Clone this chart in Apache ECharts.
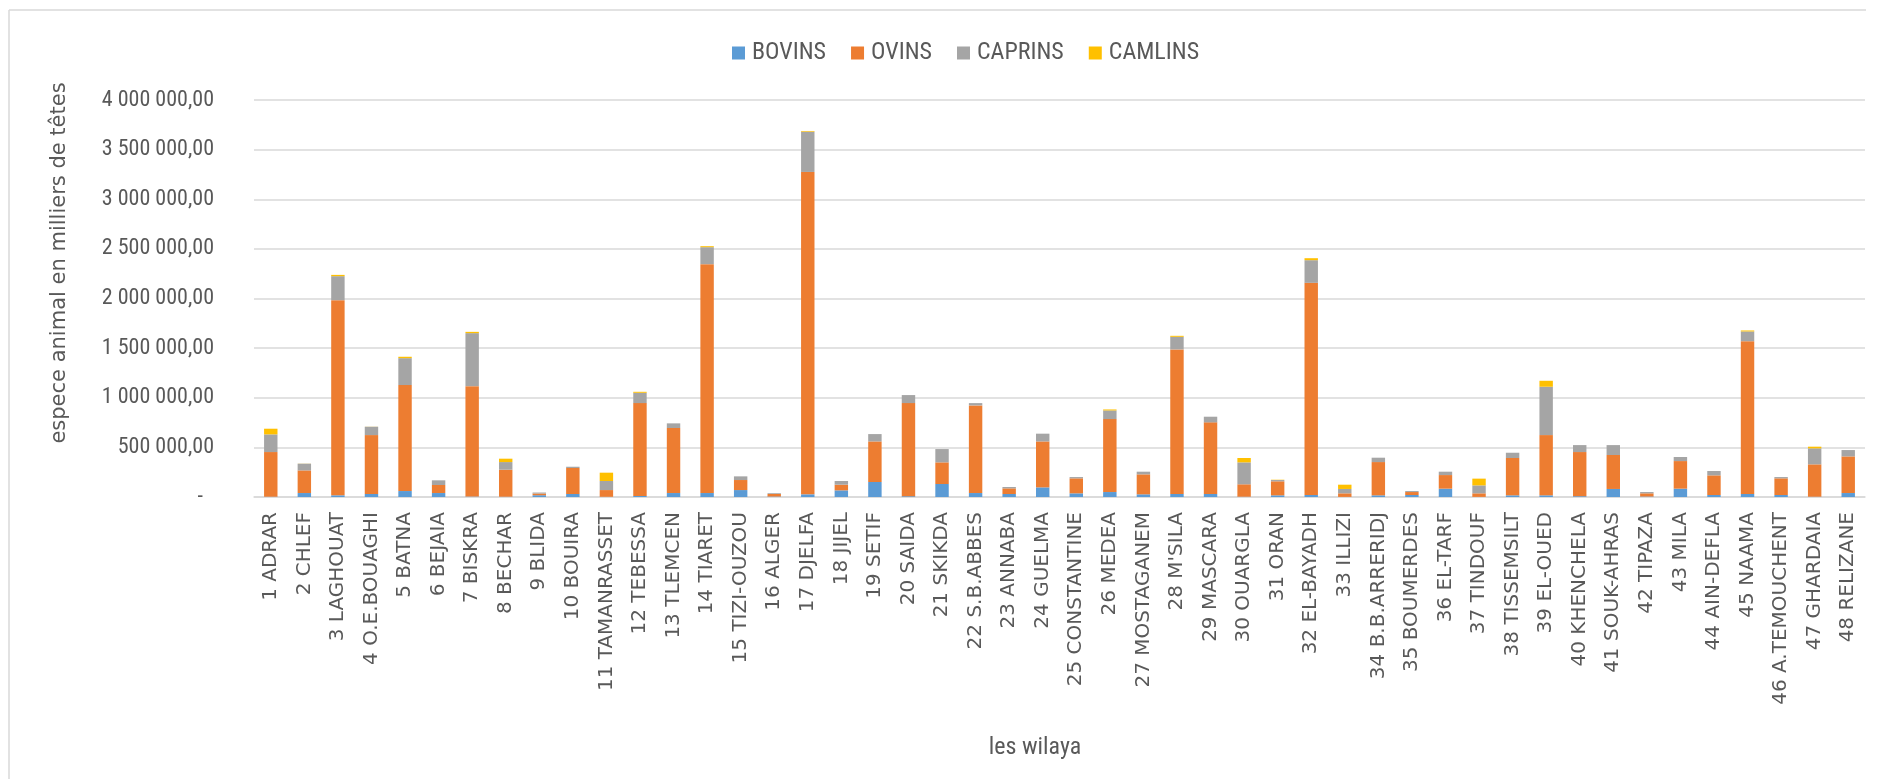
<!DOCTYPE html>
<html>
<head>
<meta charset="utf-8">
<script src="https://cdn.jsdelivr.net/npm/echarts@6/dist/echarts.min.js"></script>
<style>
html,body{margin:0;padding:0;background:#fff;}
#chart{width:1877px;height:779px;}
</style>
</head>
<body>
<div id="chart"></div>
<script>
const categories = ["1 ADRAR","2 CHLEF","3 LAGHOUAT","4 O.E.BOUAGHI","5 BATNA","6 BEJAIA","7 BISKRA","8 BECHAR","9 BLIDA","10 BOUIRA","11 TAMANRASSET","12 TEBESSA","13 TLEMCEN","14 TIARET","15 TIZI-OUZOU","16 ALGER","17 DJELFA","18 JIJEL","19 SETIF","20 SAIDA","21 SKIKDA","22 S.B.ABBES","23 ANNABA","24 GUELMA","25 CONSTANTINE","26 MEDEA","27 MOSTAGANEM","28 M'SILA","29 MASCARA","30 OUARGLA","31 ORAN","32 EL-BAYADH","33 ILLIZI","34 B.B.ARRERIDJ","35 BOUMERDES","36 EL-TARF","37 TINDOUF","38 TISSEMSILT","39 EL-OUED","40 KHENCHELA","41 SOUK-AHRAS","42 TIPAZA","43 MILA","44 AIN-DEFLA","45 NAAMA","46 A.TEMOUCHENT","47 GHARDAIA","48 RELIZANE"];
const seriesNames = ["BOVINS","OVINS","CAPRINS","CAMLINS"];
const bovins  = [3000,40000,17000,30000,60000,40000,4000,3000,18000,30000,2000,10000,40000,40000,70000,5000,27000,67000,151000,8000,131000,40000,30000,97000,37000,50000,27000,30000,30000,3000,17000,20000,1000,17000,20000,84000,1000,17000,17000,8000,81000,5000,84000,20000,30000,20000,3000,40000];
const ovins   = [450000,228000,1966000,594000,1068000,81000,1113000,272000,17000,262000,68000,936000,655000,2306000,101000,25000,3248000,57000,409000,938000,218000,883000,57000,463000,151000,735000,201000,1457000,722000,125000,141000,2138000,36000,335000,30000,137000,36000,376000,607000,445000,342000,32000,278000,198000,1540000,168000,326000,369000];
const caprins = [178000,68000,242000,84000,271000,47000,534000,77000,10000,13000,91000,104000,47000,171000,37000,8000,406000,37000,74000,81000,134000,23000,14000,78000,13000,87000,27000,127000,57000,221000,13000,228000,44000,44000,10000,34000,80000,53000,487000,70000,100000,13000,41000,44000,98000,13000,161000,64000];
const camlins = [57000,1000,13000,1000,14000,0,13000,34000,0,0,84000,10000,0,10000,0,0,7000,0,0,0,0,0,0,0,0,10000,0,10000,0,44000,3000,20000,43000,0,0,0,68000,0,60000,0,0,0,0,0,10000,0,17000,0];
const yTicks = {min:0, max:4000000, interval:500000};

const colors = ["#5B9BD5","#ED7D31","#A5A5A5","#FFC000"];
const narrow = "'Liberation Sans Narrow','Arial Narrow','Roboto Condensed','Liberation Sans',sans-serif";

function fmt(v){
  if (v === 0) return '{d|-}';
  const s = Math.round(v).toString().replace(/\B(?=(\d{3})+(?!\d))/g,' ');
  return s + ',00';
}

const chart = echarts.init(document.getElementById('chart'));
const dataArr = [bovins, ovins, caprins, camlins];
chart.setOption({
  animation:false,
  color: colors,
  graphic:[
    {type:'line', shape:{x1:9,y1:10,x2:1866,y2:10}, style:{stroke:'#d9d9d9',lineWidth:1.5}},
    {type:'line', shape:{x1:9,y1:10,x2:9,y2:779}, style:{stroke:'#d9d9d9',lineWidth:1.5}},
    {type:'text', x:60, y:263, rotation:Math.PI/2,
     style:{text:'espece animal en milliers de têtes', font:"21px 'DejaVu Sans'", fill:'#595959', textAlign:'center', textVerticalAlign:'middle'}},
    {type:'text', x:1035, y:748,
     style:{text:'les wilaya', font:"24px "+narrow, fill:'#595959', textAlign:'center', textVerticalAlign:'middle'}}
  ],
  legend:{
    data: seriesNames,
    left: 727, top: 36,
    icon:'rect', itemWidth:13, itemHeight:13, itemGap:25,
    textStyle:{fontFamily:narrow, fontSize:24, color:'#595959', padding:[0,0,0,2]}
  },
  grid:{left:254, right:12, top:100, bottom:282, containLabel:false},
  xAxis:{
    type:'category', data:categories,
    axisTick:{show:false},
    axisLine:{lineStyle:{color:'#d9d9d9', width:1.5}},
    axisLabel:{interval:0, rotate:90, margin:15, fontFamily:'DejaVu Sans', fontSize:20, color:'#595959'}
  },
  yAxis:{
    type:'value', min:yTicks.min, max:yTicks.max, interval:yTicks.interval,
    axisLine:{show:false}, axisTick:{show:false},
    splitLine:{lineStyle:{color:'#d9d9d9', width:1.5}},
    axisLabel:{margin:40, fontFamily:narrow, fontSize:22, color:'#595959', formatter:fmt,
      rich:{d:{fontFamily:narrow, fontSize:22, color:'#595959', padding:[0,11,0,0]}}}
  },
  series: seriesNames.map((n,i)=>({
    name:n, type:'bar', stack:'total', barWidth:'40%', data:dataArr[i],
    itemStyle:{color:colors[i]}
  }))
});
</script>
</body>
</html>
